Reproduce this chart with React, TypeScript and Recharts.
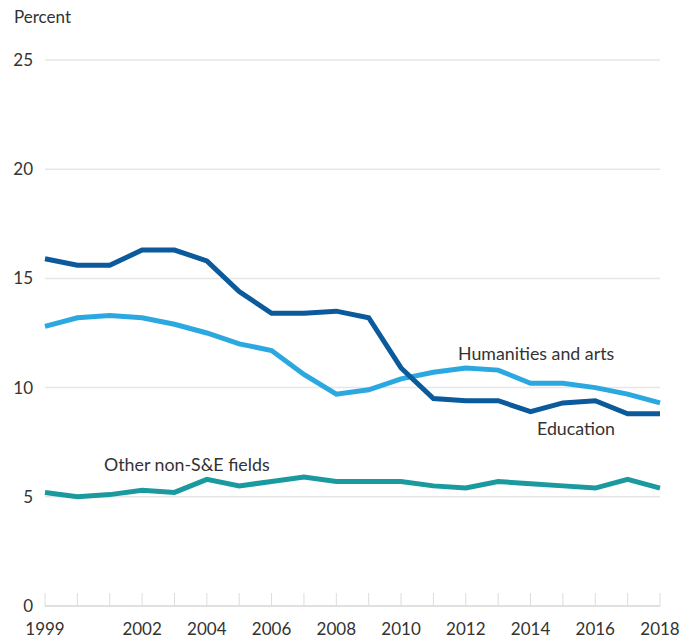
import React from "react";
import { LineChart, Line, XAxis, YAxis, CartesianGrid } from "recharts";

const years = [
  1999, 2000, 2001, 2002, 2003, 2004, 2005, 2006, 2007, 2008, 2009, 2010,
  2011, 2012, 2013, 2014, 2015, 2016, 2017, 2018,
];
const labeledYears = [1999, 2002, 2004, 2006, 2008, 2010, 2012, 2014, 2016, 2018];
const education = [
  15.9, 15.6, 15.6, 16.3, 16.3, 15.8, 14.4, 13.4, 13.4, 13.5, 13.2, 10.9, 9.5,
  9.4, 9.4, 8.9, 9.3, 9.4, 8.8, 8.8,
];
const humanities = [
  12.8, 13.2, 13.3, 13.2, 12.9, 12.5, 12.0, 11.7, 10.6, 9.7, 9.9, 10.4, 10.7,
  10.9, 10.8, 10.2, 10.2, 10.0, 9.7, 9.3,
];
const otherNonSE = [
  5.2, 5.0, 5.1, 5.3, 5.2, 5.8, 5.5, 5.7, 5.9, 5.7, 5.7, 5.7, 5.5, 5.4, 5.7,
  5.6, 5.5, 5.4, 5.8, 5.4,
];
const yTicks = [0, 5, 10, 15, 20, 25];

const data = years.map((year, i) => ({
  year,
  education: education[i],
  humanities: humanities[i],
  other: otherNonSE[i],
}));

const font = "Lato, 'Open Sans', sans-serif";
const textColor = "#333";

const XTick = (props: any) => {
  const { x, y, payload } = props;
  const show = labeledYears.includes(payload.value);
  return (
    <g>
      <line x1={x} x2={x} y1={y - 13} y2={y} stroke="#dddddd" strokeWidth={1} />
      {show && (
        <text x={x} y={y + 29} textAnchor="middle" fill={textColor} fontSize={17} fontFamily={font}>
          {payload.value}
        </text>
      )}
    </g>
  );
};

const YTick = (props: any) => {
  const { x, y, payload } = props;
  return (
    <text x={x} y={y + 6} textAnchor="end" fill={textColor} fontSize={17} fontFamily={font}>
      {payload.value}
    </text>
  );
};

const labelStyle: React.CSSProperties = {
  position: "absolute",
  fontFamily: font,
  fontSize: 17.8,
  color: textColor,
  whiteSpace: "nowrap",
  lineHeight: "22px",
};

export default function App() {
  return (
    <div style={{ position: "absolute", left: 0, top: 0, width: 688, height: 638, background: "#fff" }}>
      <LineChart
        width={688}
        height={638}
        data={data}
        margin={{ top: 60, right: 28, bottom: 0, left: 0 }}
      >
        <CartesianGrid vertical={false} stroke="#e6e6e6" strokeWidth={1.5} />
        <XAxis
          dataKey="year"
          type="number"
          domain={[1999, 2018]}
          ticks={years}
          interval={0}
          axisLine={{ stroke: "#dddddd", strokeWidth: 1.5 }}
          tickLine={false}
          tickSize={0}
          tickMargin={0}
          height={32}
          tick={<XTick />}
        />
        <YAxis
          domain={[0, 25]}
          ticks={yTicks}
          width={45}
          axisLine={false}
          tickLine={false}
          tickSize={0}
          tickMargin={12}
          tick={<YTick />}
        />
        <Line dataKey="humanities" stroke="#2ca8e0" strokeWidth={5} dot={false} isAnimationActive={false} />
        <Line dataKey="education" stroke="#0a5a9c" strokeWidth={5} dot={false} isAnimationActive={false} />
        <Line dataKey="other" stroke="#1a9a9f" strokeWidth={5} dot={false} isAnimationActive={false} />
      </LineChart>
      <div style={{ ...labelStyle, left: 14, top: 6, fontSize: 17 }}>Percent</div>
      <div style={{ ...labelStyle, left: 458, top: 342 }}>Humanities and arts</div>
      <div style={{ ...labelStyle, left: 537, top: 417 }}>Education</div>
      <div style={{ ...labelStyle, left: 104, top: 453 }}>Other non-S&amp;E fields</div>
    </div>
  );
}
